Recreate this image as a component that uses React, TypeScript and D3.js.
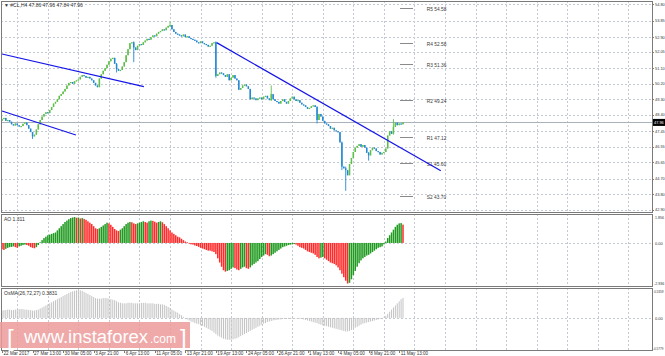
import React from "react";
import * as d3 from "d3";

// ---------- DATA ----------
const closes = [
  48.15, 48.22, 48.05, 48.10, 48.00, 47.85, 47.78, 47.90, 47.80, 47.72,
  47.75, 47.88, 47.95, 47.80, 47.60, 47.40, 47.15, 47.25, 47.55, 47.85,
  48.10, 48.30, 48.45, 48.55, 48.50, 48.68, 48.85, 49.05, 49.15, 49.30,
  49.50, 49.60, 49.75, 49.90, 50.10, 50.25, 50.30, 50.20, 50.35, 50.40,
  50.45, 50.60, 50.70, 50.65, 50.55, 50.60, 50.50, 50.40, 50.25, 50.10,
  50.00, 50.50, 50.75, 50.95, 51.10, 51.30, 51.50, 51.65, 51.70, 51.35,
  51.05, 50.95, 51.00, 51.20, 51.45, 51.85, 52.20, 52.55, 52.60, 52.30,
  52.15, 52.40, 52.50, 52.45, 52.60, 52.70, 52.80, 52.75, 52.90, 53.00,
  52.95, 53.10, 53.20, 53.25, 53.35, 53.30, 53.45, 53.55, 53.60, 53.35,
  53.20, 53.10, 53.05, 53.00, 52.95, 53.05, 52.90, 52.95, 52.85, 52.80,
  52.75, 52.70, 52.60, 52.55, 52.65, 52.55, 52.50, 52.45, 52.35, 52.40,
  52.55, 52.60, 50.65, 50.75, 50.85, 50.80, 50.70, 50.60, 50.75, 50.40,
  50.55, 50.70, 50.50, 50.40, 49.85, 49.95, 50.10, 50.15, 50.05, 49.90,
  49.30, 49.40, 49.35, 49.25, 49.35, 49.40, 49.30, 49.45, 49.50, 49.35,
  49.25, 49.60, 49.30, 49.20, 49.15, 49.05, 49.20, 49.30, 49.15, 49.05,
  49.20, 49.35, 49.45, 49.30, 49.20, 49.25, 49.10, 49.00, 48.95, 48.85,
  48.75, 48.80, 48.90, 48.95, 48.85, 48.10, 48.45, 48.30, 48.05, 47.90,
  47.85, 47.75, 47.60, 47.65, 47.50, 47.45, 47.40, 46.80, 45.40, 45.30,
  45.20, 44.90, 45.55, 45.90, 46.25, 46.50, 46.60, 46.70, 46.55, 46.65,
  46.50, 46.20, 46.05, 46.35, 46.50, 46.45, 46.30, 46.25, 46.10, 46.20,
  46.25, 46.45, 47.20, 47.45, 47.30, 47.70, 47.95, 47.80, 47.90, 47.85,
  47.96,
];
const firstOpen = 48.05;

// visible long wicks (bar index, high, low)
const wicks = [
  { i: 16, hi: 47.40, lo: 47.00 },
  { i: 60, hi: 51.40, lo: 50.85 },
  { i: 69, hi: 52.65, lo: 51.45 },
  { i: 88, hi: 53.80, lo: 53.50 },
  { i: 112, hi: 52.65, lo: 50.55 },
  { i: 141, hi: 50.10, lo: 49.20 },
  { i: 165, hi: 48.90, lo: 47.90 },
  { i: 178, hi: 46.85, lo: 45.20 },
  { i: 180, hi: 45.40, lo: 44.00 },
  { i: 192, hi: 46.25, lo: 45.75 },
  { i: 205, hi: 48.15, lo: 47.25 },
];

const aoValues = [
  -0.45, -0.50, -0.42, -0.35, -0.30, -0.28, -0.25, -0.30, -0.35, -0.25,
  -0.20, -0.15, -0.12, -0.15, -0.20, -0.30, -0.35, -0.38, -0.30, -0.15,
  0.05, 0.20, 0.35, 0.45, 0.55, 0.60, 0.65, 0.70, 0.75, 0.90,
  1.05, 1.20, 1.35, 1.50, 1.60, 1.70, 1.78, 1.82, 1.85, 1.80,
  1.82, 1.75, 1.78, 1.72, 1.65, 1.55, 1.45, 1.35, 1.20, 1.05,
  1.00, 1.05, 1.15, 1.25, 1.35, 1.45, 1.40, 1.30, 1.15, 1.00,
  0.90, 0.85, 0.95, 1.05, 1.20, 1.35, 1.45, 1.50, 1.48, 1.40,
  1.35, 1.40, 1.45, 1.50, 1.55, 1.50, 1.45, 1.55, 1.60, 1.58,
  1.52, 1.45, 1.50, 1.55, 1.48, 1.35, 1.20, 1.05, 0.90, 0.75,
  0.65, 0.55, 0.45, 0.40, 0.30, 0.20, 0.10, 0.05, -0.05, -0.10,
  -0.12, -0.18, -0.22, -0.28, -0.35, -0.40, -0.45, -0.50, -0.55, -0.55,
  -0.60, -0.65, -0.80, -1.10, -1.40, -1.70, -1.95, -2.05, -2.00, -1.95,
  -1.85, -1.75, -1.80, -1.90, -1.95, -1.85, -1.75, -1.70, -1.80, -1.85,
  -1.75, -1.60, -1.50, -1.40, -1.30, -1.15, -1.00, -0.90, -0.80, -0.85,
  -0.95, -0.90, -0.80, -0.70, -0.60, -0.50, -0.40, -0.30, -0.25, -0.20,
  -0.15, -0.12, -0.10, -0.08, -0.12, -0.20, -0.30, -0.35, -0.40, -0.50,
  -0.60, -0.65, -0.70, -0.75, -0.85, -1.00, -1.10, -1.05, -1.00, -1.10,
  -1.20, -1.30, -1.40, -1.45, -1.50, -1.60, -1.75, -1.95, -2.20, -2.45,
  -2.70, -2.90, -2.85, -2.60, -2.30, -2.00, -1.70, -1.45, -1.25, -1.10,
  -1.00, -0.90, -0.85, -0.75, -0.65, -0.55, -0.45, -0.35, -0.30, -0.25,
  -0.10, 0.10, 0.35, 0.55, 0.75, 0.95, 1.15, 1.30, 1.40, 1.42,
  1.311,
];

const osmaValues = [
  0.14, 0.15, 0.15, 0.16, 0.16, 0.15, 0.15, 0.16, 0.16, 0.17,
  0.17, 0.17, 0.16, 0.16, 0.15, 0.15, 0.14, 0.14, 0.15, 0.16,
  0.18, 0.20, 0.22, 0.24, 0.26, 0.28, 0.30, 0.32, 0.34, 0.36,
  0.38, 0.40, 0.42, 0.44, 0.46, 0.48, 0.50, 0.51, 0.52, 0.53,
  0.536, 0.53, 0.52, 0.50, 0.48, 0.46, 0.44, 0.42, 0.40, 0.38,
  0.37, 0.37, 0.37, 0.38, 0.38, 0.38, 0.37, 0.36, 0.35, 0.34,
  0.32, 0.30, 0.29, 0.28, 0.28, 0.28, 0.29, 0.29, 0.29, 0.28,
  0.28, 0.28, 0.28, 0.29, 0.29, 0.29, 0.28, 0.28, 0.28, 0.28,
  0.27, 0.27, 0.27, 0.26, 0.26, 0.25, 0.23, 0.21, 0.19, 0.16,
  0.14, 0.12, 0.10, 0.07, 0.05, 0.02, -0.01, -0.03, -0.05, -0.07,
  -0.08, -0.10, -0.11, -0.12, -0.14, -0.15, -0.17, -0.19, -0.21, -0.23,
  -0.25, -0.28, -0.31, -0.34, -0.36, -0.38, -0.40, -0.41, -0.42, -0.42,
  -0.42, -0.41, -0.40, -0.39, -0.37, -0.35, -0.33, -0.31, -0.29, -0.27,
  -0.25, -0.23, -0.21, -0.19, -0.17, -0.15, -0.13, -0.11, -0.10, -0.08,
  -0.07, -0.06, -0.05, -0.04, -0.04, -0.03, -0.03, -0.02, -0.02, -0.02,
  -0.02, -0.02, -0.02, -0.01, -0.01, -0.01, -0.02, -0.02, -0.03, -0.04,
  -0.05, -0.06, -0.07, -0.08, -0.09, -0.10, -0.12, -0.13, -0.14, -0.15,
  -0.16, -0.17, -0.18, -0.19, -0.20, -0.21, -0.22, -0.23, -0.24, -0.25,
  -0.26, -0.26, -0.25, -0.23, -0.21, -0.19, -0.17, -0.15, -0.13, -0.11,
  -0.10, -0.09, -0.08, -0.07, -0.06, -0.05, -0.04, -0.03, -0.02, -0.01,
  0.01, 0.04, 0.08, 0.12, 0.16, 0.20, 0.24, 0.28, 0.32, 0.36,
  0.3831,
];

const priceTicks = [54.80, 53.85, 52.90, 52.05, 51.10, 50.20, 49.30, 48.40, 47.45, 46.55, 45.65, 44.70, 43.80, 42.90];
const priceMin = 42.90;
const priceMax = 54.80;
const lastPrice = 47.96;

const aoMax = 1.856;
const aoMin = -2.936;
const osMax = 0.5359;
const osMin = -0.5779;

const timeLabels = [
  "22 Mar 2017", "27 Mar 13:00", "30 Mar 05:00", "3 Apr 21:00", "6 Apr 13:00",
  "11 Apr 05:00", "13 Apr 21:00", "19 Apr 13:00", "24 Apr 05:00", "26 Apr 21:00",
  "1 May 13:00", "4 May 05:00", "8 May 21:00", "11 May 13:00",
];
const labelStep = 16;

const pivotNames = ["R5", "R4", "R3", "R2", "R1", "S1", "S2"];
const pivotValues = [54.58, 52.58, 51.36, 49.24, 47.12, 45.60, 43.70];

const trendLines = [
  { i0: 0, p0: 51.92, i1: 74.3, p1: 50.03 },
  { i0: 0, p0: 48.62, i1: 38.7, p1: 47.23 },
  { i0: 112.4, p0: 52.58, i1: 229.8, p1: 45.16 },
];

const headerText = "#CL,H4  47.86 47.96 47.84 47.96";

// ---------- LAYOUT ----------
const W = 665;
const H = 356;
const L = 1;
const R = 652;
const mainTop = 1, mainBot = 212;
const aoTop = 214, aoBot = 286;
const osTop = 288, osBot = 350;
const FONT = "'Liberation Sans', Arial, sans-serif";
const BULL = "#5cbf48";
const BEAR = "#2388d2";
const AXF = 4.4; // axis font size

function AxisText({ x, y, s, fill = "#333", per = 1.95, fs = AXF }: { x: number; y: number; s: string; fill?: string; per?: number; fs?: number }) {
  return (
    <text x={x} y={y} fontSize={fs} fill={fill} textLength={s.length * per} lengthAdjust="spacingAndGlyphs">
      {s}
    </text>
  );
}

export default function App() {
  const n = closes.length;
  const x = d3.scaleLinear().domain([0, 210]).range([2, 403]);
  const y = d3.scaleLinear().domain([priceMin, priceMax]).range([209.8, 4.3]);
  const yAO = d3.scaleLinear().domain([aoMin, aoMax]).range([284, 217]);
  const yOs = d3.scaleLinear().domain([osMin, osMax]).range([348, 290]);

  const candles = closes.map((c, i) => {
    const o = i === 0 ? firstOpen : closes[i - 1];
    const w = wicks.find((d) => d.i === i);
    return {
      i,
      o,
      c,
      hi: w ? w.hi : Math.max(o, c),
      lo: w ? w.lo : Math.min(o, c),
    };
  });

  const gridIdx: number[] = [];
  for (let k = 8; x(k) < R - 2; k += labelStep) gridIdx.push(k);

  const line = d3.line<[number, number]>().x((d) => d[0]).y((d) => d[1]);

  return (
    <svg
      width={W}
      height={H}
      style={{ position: "absolute", left: 0, top: 0, background: "#fff" }}
      fontFamily={FONT}
    >
      <rect x={0} y={0} width={W} height={H} fill="#fff" />

      {/* vertical grid */}
      {gridIdx.map((k) =>
        [
          [mainTop, mainBot],
          [aoTop, aoBot],
          [osTop, osBot],
        ].map(([a, b], j) => (
          <line
            key={`vg${k}-${j}`}
            x1={Math.round(x(k)) + 0.5}
            x2={Math.round(x(k)) + 0.5}
            y1={a}
            y2={b}
            stroke="#c4cad3"
            strokeDasharray="2,2"
            shapeRendering="crispEdges"
          />
        ))
      )}

      {/* horizontal price grid */}
      {priceTicks.map((p) => (
        <line
          key={`hg${p}`}
          x1={L}
          x2={R}
          y1={Math.round(y(p)) + 0.5}
          y2={Math.round(y(p)) + 0.5}
          stroke="#c4cad3"
          strokeDasharray="2,2"
          shapeRendering="crispEdges"
        />
      ))}
      {/* zero lines */}
      <line x1={L} x2={R} y1={Math.round(yAO(0)) + 0.5} y2={Math.round(yAO(0)) + 0.5} stroke="#c4cad3" strokeDasharray="2,2" shapeRendering="crispEdges" />
      <line x1={L} x2={R} y1={Math.round(yOs(0)) + 0.5} y2={Math.round(yOs(0)) + 0.5} stroke="#c4cad3" strokeDasharray="2,2" shapeRendering="crispEdges" />

      {/* current price line */}
      <line x1={L} x2={R} y1={Math.round(y(lastPrice)) + 0.5} y2={Math.round(y(lastPrice)) + 0.5} stroke="#a9b2bb" shapeRendering="crispEdges" />

      {/* pivot levels */}
      {pivotValues.map((p, k) => (
        <g key={`pv${k}`}>
          <line x1={x(208.5)} x2={x(215)} y1={Math.round(y(p)) + 0.5} y2={Math.round(y(p)) + 0.5} stroke="#8a8a8a" shapeRendering="crispEdges" />
          <text x={x(222.5)} y={y(p) + 3} fontSize={4.8} fill="#3a3a3a">
            {`${pivotNames[k]} ${p.toFixed(2)}`}
          </text>
        </g>
      ))}

      {/* candles */}
      {candles.map((d) => {
        const cx = x(d.i);
        const col = d.c >= d.o ? BULL : BEAR;
        const top = y(Math.max(d.o, d.c));
        const bot = y(Math.min(d.o, d.c));
        return (
          <g key={`c${d.i}`}>
            <line x1={cx} x2={cx} y1={y(d.hi)} y2={y(d.lo)} stroke={col} strokeWidth={0.9} />
            <rect x={cx - 0.75} y={top} width={1.5} height={Math.max(1.2, bot - top)} fill={col} />
          </g>
        );
      })}

      {/* trend lines */}
      {trendLines.map((t, k) => (
        <path
          key={`tl${k}`}
          d={line([
            [x(t.i0), y(t.p0)],
            [x(t.i1), y(t.p1)],
          ]) || ""}
          stroke="#1414e8"
          strokeWidth={1.2}
          fill="none"
        />
      ))}

      {/* AO histogram */}
      {aoValues.map((v, i) => {
        const up = i === 0 ? v >= 0 : v > aoValues[i - 1];
        const y0 = yAO(0);
        const y1 = yAO(v);
        return (
          <rect
            key={`ao${i}`}
            x={x(i) - 0.75}
            y={Math.min(y0, y1)}
            width={1.5}
            height={Math.abs(y1 - y0)}
            fill={up ? "#1e9a1e" : "#ff2a2a"}
          />
        );
      })}

      {/* OsMA histogram */}
      {osmaValues.map((v, i) => {
        const y0 = yOs(0);
        const y1 = yOs(v);
        return (
          <rect
            key={`os${i}`}
            x={x(i) - 0.5}
            y={Math.min(y0, y1)}
            width={1}
            height={Math.abs(y1 - y0)}
            fill="#c3c3c3"
          />
        );
      })}

      {/* panel frames */}
      {[
        [mainTop, mainBot],
        [aoTop, aoBot],
        [osTop, osBot],
      ].map(([a, b], k) => (
        <rect key={`fr${k}`} x={L + 0.5} y={a + 0.5} width={R - L} height={b - a} fill="none" stroke="#7a7a7a" shapeRendering="crispEdges" />
      ))}

      {/* right axis labels */}
      {priceTicks.map((p) => (
        <g key={`pl${p}`}>
          <line x1={R} x2={R + 2} y1={Math.round(y(p)) + 0.5} y2={Math.round(y(p)) + 0.5} stroke="#7a7a7a" />
          <AxisText x={R + 3} y={y(p) + 1.6} s={p.toFixed(2)} />
        </g>
      ))}
      <rect x={R + 1} y={y(lastPrice) - 3.5} width={12} height={7} fill="#000" />
      <AxisText x={R + 2} y={y(lastPrice) + 1.6} s={lastPrice.toFixed(2)} fill="#fff" />

      <AxisText x={R + 3} y={aoTop + 5} s={aoMax.toFixed(3)} per={1.8} />
      <AxisText x={R + 3} y={yAO(0) + 1.6} s="0.00" />
      <AxisText x={R + 2} y={aoBot - 1} s={aoMin.toFixed(3)} per={1.7} />
      <AxisText x={R + 2} y={osTop + 5} s={osMax.toFixed(4)} per={1.6} fs={3.7} />
      <AxisText x={R + 3} y={yOs(0) + 1.6} s="0.00" />
      <AxisText x={R + 1} y={osBot} s={osMin.toFixed(4)} per={1.5} fs={3.4} />

      {/* indicator titles */}
      <text x={4} y={7} fontSize={5} fill="#333">{"\u25BC " + headerText}</text>
      <text x={4} y={aoTop + 7} fontSize={5} fill="#333">{`AO ${aoValues[n - 1].toFixed(3)}`}</text>
      <text x={4} y={osTop + 7} fontSize={5} fill="#333">{`OsMA(26,72,27) ${osmaValues[n - 1].toFixed(4)}`}</text>

      {/* watermark */}
      <rect x={0} y={322} width={190} height={26} fill="#ec9a9a" opacity={0.85} />
      <text x={7} y={346} fontSize={24} fill="#fff" fontWeight={300}>[</text>
      <text x={24} y={343} fontSize={18} fill="#fff" textLength={124} lengthAdjust="spacingAndGlyphs">www.instaforex</text>
      <text x={150} y={343} fontSize={12} fill="#fff" textLength={26} lengthAdjust="spacingAndGlyphs">.com</text>
      <text x={180} y={346} fontSize={24} fill="#fff" fontWeight={300}>]</text>

      {/* time axis labels */}
      {timeLabels.map((t, k) => {
        const xi = x(k * labelStep);
        return (
          <g key={`tl-${k}`}>
            <line x1={Math.round(xi) + 0.5} x2={Math.round(xi) + 0.5} y1={osBot} y2={osBot + 3} stroke="#7a7a7a" />
            <text x={xi + 1.5} y={355} fontSize={4.6} fill="#333">{t}</text>
          </g>
        );
      })}
    </svg>
  );
}
